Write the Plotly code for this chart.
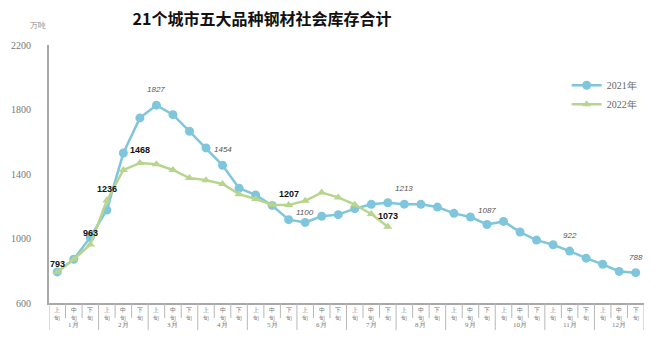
import plotly.graph_objects as go

months = [f"{m}月" for m in range(1, 13)]
dekads = ["上旬", "中旬", "下旬"]

v2021 = [793, 871, 1008, 1177, 1530, 1748, 1827, 1768, 1665, 1562, 1454, 1312, 1270, 1205,
         1117, 1100, 1138, 1148, 1185, 1212, 1222, 1213, 1212, 1195, 1156, 1133, 1087, 1106,
         1040, 990, 961, 922, 878, 840, 796, 788]
v2022 = [793, 871, 963, 1236, 1425, 1468, 1460, 1425, 1375, 1362, 1338, 1275, 1245, 1210,
         1207, 1234, 1285, 1255, 1210, 1152, 1073]

labels2021 = {6: "1827", 10: "1454", 15: "1100", 21: "1213", 26: "1087", 31: "922", 35: "788"}
labels2022 = {0: "793", 2: "963", 3: "1236", 5: "1468", 14: "1207", 20: "1073"}

cats = [m + d for m in months for d in dekads]
ticktext = ["<br>".join(d) for _ in months for d in dekads]

blue = "#7fc6dc"
green = "#b7d58c"
grey = "#a8a8a8"
serif = "Liberation Serif"

fig = go.Figure()
fig.add_trace(go.Scatter(
    x=cats, y=v2021, name="2021年", mode="lines+markers",
    line=dict(color=blue, width=2.5), marker=dict(symbol="circle", size=9, color=blue),
    cliponaxis=False,
))
fig.add_trace(go.Scatter(
    x=cats[:len(v2022)], y=v2022, name="2022年", mode="lines+markers",
    line=dict(color=green, width=2.5), marker=dict(symbol="triangle-up", size=8, color=green),
    cliponaxis=False,
))

# boundaries between dekads (short) and months (long)
shapes = []
for b in range(len(cats) + 1):
    long = b % 3 == 0
    shapes.append(dict(type="line", xref="x", yref="paper", x0=b - 0.5, x1=b - 0.5,
                       y0=0, y1=-(27 if long else 15) / 258,
                       line=dict(color="#b8b8b8", width=1)))

annotations = [dict(text="万吨", x=(38 - 49) / 595, y=(303 - 25) / 258, xref="paper", yref="paper",
                    showarrow=False, xanchor="center", yanchor="middle",
                    font=dict(family=serif, size=8, color="#888888"))]
for k, m in enumerate(months):
    annotations.append(dict(text=m, x=cats[3 * k + 1], y=-22 / 258, xref="x", yref="paper",
                            showarrow=False, xanchor="center", yanchor="middle",
                            font=dict(family=serif, size=7, color="#777777")))

shift2021 = {6: 16, 10: 16, 15: 10, 21: 16, 26: 14, 31: 16, 35: 15}
shift2022 = {0: 8, 2: 11, 3: 11, 5: 13, 14: 11, 20: 11}
for i, t in labels2021.items():
    annotations.append(dict(text=f"<i>{t}</i>", x=cats[i], y=v2021[i], xref="x", yref="y",
                            showarrow=False, yshift=shift2021[i], xanchor="center", yanchor="middle",
                            font=dict(family="Liberation Sans", size=8, color="#555555")))
for i, t in labels2022.items():
    annotations.append(dict(text=f"<b>{t}</b>", x=cats[i], y=v2022[i], xref="x", yref="y",
                            showarrow=False, yshift=shift2022[i], xanchor="center", yanchor="middle",
                            font=dict(family="Liberation Sans", size=9, color="#111111")))

fig.update_layout(
    width=660, height=341,
    margin=dict(l=49, r=16, t=45, b=38),
    paper_bgcolor="white", plot_bgcolor="white",
    title=dict(text="21个城市五大品种钢材社会库存合计", x=262/660, xref="container", xanchor="center",
               y=1-19/341, yref="container", yanchor="middle",
               font=dict(family="Noto Sans CJK SC", size=16, color="#111111", weight="bold")),
    showlegend=True,
    legend=dict(x=0.87, y=0.9, xanchor="left", yanchor="top", bgcolor="rgba(0,0,0,0)",
                font=dict(family=serif, size=10, color="#666666"), tracegroupgap=2),
    shapes=shapes,
    annotations=annotations,
)

fig.update_yaxes(range=[600, 2200], tick0=200, dtick=400, showgrid=False, zeroline=False,
                 showline=True, linecolor=grey, linewidth=2, ticks="",
                 tickfont=dict(family=serif, size=10, color="#777777"), ticklabelstandoff=14)
fig.update_xaxes(type="category", categoryarray=cats, categoryorder="array",
                 range=[-0.5, len(cats) - 0.5], showgrid=False, showline=True,
                 linecolor=grey, linewidth=2, ticks="",
                 tickmode="array", tickvals=cats, ticktext=ticktext, tickangle=0,
                 tickfont=dict(family=serif, size=6, color="#777777"))

fig.write_html("out.html")
